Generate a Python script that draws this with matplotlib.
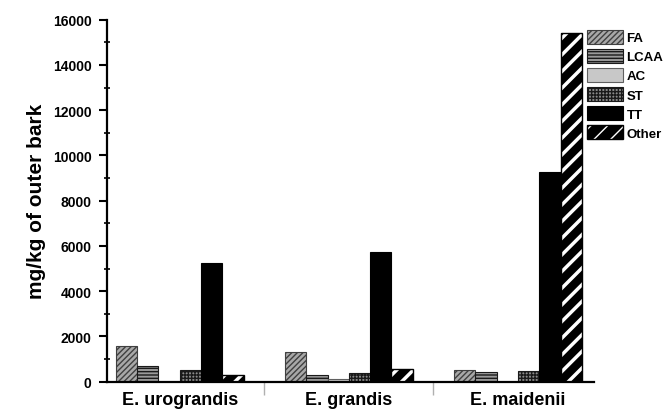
import matplotlib
matplotlib.use("Agg")
import matplotlib.pyplot as plt
import numpy as np
from matplotlib.patches import Patch
from matplotlib.legend_handler import HandlerTuple
from matplotlib.ticker import MultipleLocator, FixedLocator

plt.rcParams['font.family'] = ['Liberation Sans', 'DejaVu Sans']
plt.rcParams['font.weight'] = 'bold'
plt.rcParams['hatch.linewidth'] = 1.0

groups = ['E. urograndis', 'E. grandis', 'E. maidenii']
series_names = ['FA', 'LCAA', 'AC', 'ST', 'TT', 'Other']
FA = [1560, 1300, 530]
LCAA = [710, 310, 410]
AC = [0, 120, 0]
ST = [500, 385, 455]
TT = [5240, 5720, 9260]
Other = [280, 560, 15410]
yticks = [0, 2000, 4000, 6000, 8000, 10000, 12000, 14000, 16000]

series = [FA, LCAA, AC, ST, TT, Other]
styles = [
    dict(facecolor='#a8a8a8', edgecolor='#404040', hatch='//////'),
    dict(facecolor='#9a9a9a', edgecolor='#1a1a1a', hatch='-----'),
    dict(facecolor='#c8c8c8', edgecolor='#606060', hatch=None),
    dict(facecolor='#8a8a8a', edgecolor='#1a1a1a', hatch='+++++'),
    dict(facecolor='#000000', edgecolor='#000000', hatch=None),
]

fig = plt.figure(figsize=(6.7, 4.1), dpi=100)
ax = fig.add_axes([107/670, 1-382.7/410, (594-107)/670, (382.7-20.7)/410])

x = np.arange(1, len(groups) + 1)
w = 0.126
handles = []
for i, (vals, name) in enumerate(zip(series, series_names)):
    pos = x + (i - 2.5) * w
    if name != 'Other':
        st = styles[i]
        ax.bar(pos, vals, w, facecolor=st['facecolor'], edgecolor=st['edgecolor'],
               hatch=st['hatch'], linewidth=0.8)
        handles.append(Patch(facecolor=st['facecolor'], edgecolor=st['edgecolor'],
                             hatch=st['hatch'], linewidth=0.8))
    else:
        with plt.rc_context({'hatch.linewidth': 2.5}):
            ax.bar(pos, vals, w, facecolor='black', edgecolor='white', hatch='//', linewidth=0)
            hp = Patch(facecolor='black', edgecolor='white', hatch='//', linewidth=0)
        ax.bar(pos, vals, w, fill=False, edgecolor='black', linewidth=1.0)
        handles.append((hp, Patch(fill=False, edgecolor='black', linewidth=1.0)))

ax.set_xlim(0.57, 3.45)
ax.set_ylim(0, 16000)
ax.set_yticks(yticks)
ax.yaxis.set_minor_locator(MultipleLocator(1000))
ax.set_xticks(x)
ax.set_xticklabels(groups, fontsize=13, fontweight='bold')
ax.xaxis.set_minor_locator(FixedLocator([1.5, 2.5]))
ax.tick_params(axis='x', which='major', length=0, pad=7)
ax.tick_params(axis='x', which='minor', length=9, width=1.0, color='#b0b0b0', direction='out')
ax.tick_params(axis='y', which='major', length=6, width=1.5, direction='out', labelsize=10, pad=5)
ax.tick_params(axis='y', which='minor', length=5, width=1.2, direction='inout')
for lab in ax.get_yticklabels():
    lab.set_fontweight('bold')

for s in ['top', 'right']:
    ax.spines[s].set_visible(False)
ax.spines['left'].set_linewidth(1.6)
ax.spines['bottom'].set_linewidth(1.6)

ax.set_ylabel('mg/kg of outer bark', fontsize=15, fontweight='bold', labelpad=5)

fig.legend(handles, series_names, loc='upper left',
           bbox_to_anchor=(587/670, 1-31/410), bbox_transform=fig.transFigure,
           frameon=False, borderpad=0, borderaxespad=0,
           handlelength=2.7, handleheight=1.25, handletextpad=0.3, labelspacing=0.35,
           prop={'weight': 'bold', 'size': 9.5},
           handler_map={tuple: HandlerTuple(ndivide=1, pad=0)})

fig.savefig('out.png', dpi=100)
